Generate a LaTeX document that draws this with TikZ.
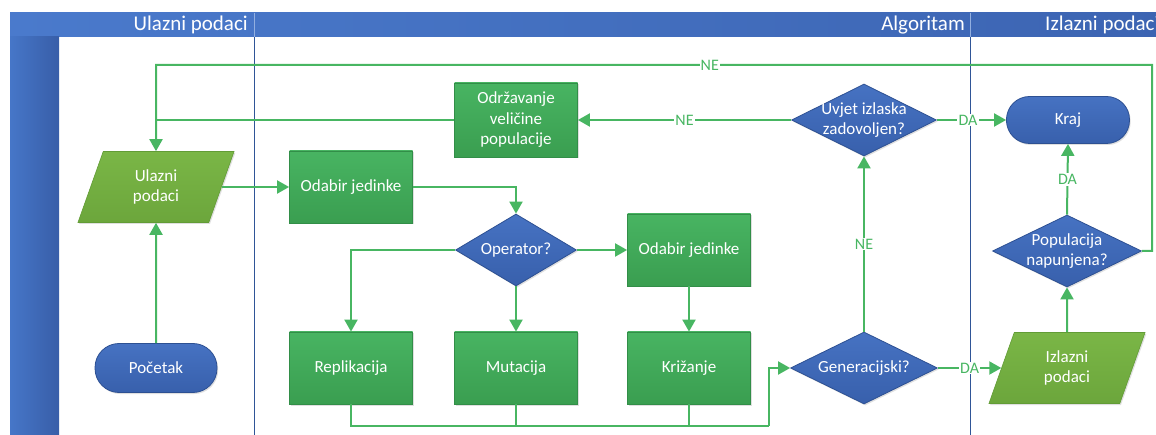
\documentclass[tikz,border=0pt]{standalone}
\usepackage{fontspec}
\setmainfont{Carlito}
\usetikzlibrary{shapes.geometric,arrows.meta,shadows,calc}

\definecolor{hdrlight}{RGB}{74,122,204}
\definecolor{hdrdark}{RGB}{60,100,178}
\definecolor{barlight}{RGB}{70,118,200}
\definecolor{bardark}{RGB}{56,94,168}
\definecolor{laneline}{RGB}{47,85,151}
\definecolor{proctop}{RGB}{72,180,98}
\definecolor{procbot}{RGB}{58,158,80}
\definecolor{procedge}{RGB}{50,142,72}
\definecolor{iotop}{RGB}{122,182,70}
\definecolor{iobot}{RGB}{108,166,60}
\definecolor{ioedge}{RGB}{98,156,54}
\definecolor{dectop}{RGB}{70,114,194}
\definecolor{decbot}{RGB}{56,96,172}
\definecolor{decedge}{RGB}{45,80,146}
\definecolor{flow}{RGB}{72,182,98}

\tikzset{
  nodetext/.style={text=white, align=center, font=\fontsize{17}{20.5}\selectfont},
  softshadow/.style={drop shadow={shadow xshift=1.2pt, shadow yshift=-1.5pt, opacity=0.18, fill=black!70}},
  procbox/.style={rectangle, draw=procedge, line width=0.8pt, top color=proctop, bottom color=procbot,
    nodetext, minimum width=123pt, minimum height=72pt, inner sep=2pt, softshadow},
  iobox/.style={trapezium, trapezium left angle=72.5, trapezium right angle=107.5, trapezium stretches=true,
    draw=ioedge, line width=0.6pt, top color=iotop, bottom color=iobot, nodetext,
    minimum width=157pt, minimum height=71pt, inner sep=0pt, softshadow},
  decbox/.style={diamond, draw=decedge, line width=0.8pt, top color=dectop, bottom color=decbot,
    inner sep=0pt, minimum height=72pt, softshadow},
  termbox/.style={rectangle, rounded corners=23pt, draw=decedge, line width=0.8pt, top color=dectop,
    bottom color=decbot, nodetext, minimum width=123pt, minimum height=47pt, inner sep=2pt, softshadow},
  flowline/.style={draw=flow, line width=2pt},
  flowarrow/.style={flowline, -{Triangle[width=13pt,length=12pt]}},
  lbl/.style={fill=white, text=flow, inner sep=1.2pt, font=\fontsize{16}{18}\selectfont},
  hdrtext/.style={text=white, font=\fontsize{21}{24}\selectfont, inner sep=0pt},
}

\begin{document}
\begin{tikzpicture}[x=1pt,y=-1pt]
\useasboundingbox (0,0) rectangle (1156,435);
\clip (0,0) rectangle (1156,435);

% swimlane frame
\shade[left color=hdrlight, right color=hdrdark] (10,13) rectangle (1170,37);
\shade[left color=barlight, right color=bardark] (10,37) rectangle (59,435);
\draw[hdrlight!60!white, line width=0.6pt] (254,13) -- (254,37) (970,13) -- (970,37);
\draw[laneline, line width=1pt] (254,37) -- (254,435) (970,37) -- (970,435);
\node[hdrtext, anchor=east] (hIn) at (248,25) {Ulazni podaci};
\node[hdrtext, anchor=east] (hAlg) at (965,25) {Algoritam};
\node[hdrtext, anchor=west] (hOut) at (1045,25) {Izlazni podaci};

% flowchart nodes
\node[iobox] (inp) at (156,187) {Ulazni\\podaci};
\node[termbox, minimum width=122pt, minimum height=49pt, rounded corners=24pt] (start) at (156,368) {Početak};
\node[procbox] (sel1) at (351,187) {Odabir jedinke};
\node[decbox, minimum width=121pt, label={[nodetext]center:Operator?}] (op) at (516,250) {};
\node[procbox] (sel2) at (689,250) {Odabir jedinke};
\node[procbox] (rep) at (351,368) {Replikacija};
\node[procbox] (mut) at (516,368) {Mutacija};
\node[procbox] (cross) at (689,368) {Križanje};
\node[decbox, minimum width=147pt, label={[nodetext]center:Generacijski?}] (gen) at (864,368) {};
\node[decbox, minimum width=145pt, label={[nodetext]center:Uvjet izlaska\\zadovoljen?}] (exitd) at (864,120) {};
\node[procbox, minimum height=74pt] (keep) at (516,120) {Održavanje\\veličine\\populacije};
\node[termbox] (fin) at (1068,120) {Kraj};
\node[decbox, minimum width=149pt, label={[nodetext]center:Populacija\\napunjena?}] (full) at (1067,251) {};
\node[iobox] (outp) at (1067,368) {Izlazni\\podaci};

% junction points of the connectors
\coordinate (collR) at (769,426);
\coordinate (loopR) at (1152,65);
\coordinate (loopL) at (156,65);

% connectors
\draw[flowarrow] (start.north) -- (inp.south);
\draw[flowarrow] (inp.right side) -- (sel1.west);
\draw[flowarrow] (sel1.east) -| (op.north);
\draw[flowarrow] (op.east) -- (sel2.west);
\draw[flowarrow] (op.west) -| (rep.north);
\draw[flowarrow] (op.south) -- (mut.north);
\draw[flowarrow] (sel2.south) -- (cross.north);
\draw[flowline] (rep.south) |- (collR);
\draw[flowline] (mut.south) -- (mut.south |- collR);
\draw[flowline] (cross.south) -- (cross.south |- collR);
\draw[flowarrow] (collR) |- (gen.west);
\draw[flowarrow] (gen.east) -- node[lbl] {DA} (outp.left side);
\draw[flowarrow] (gen.north) -- node[lbl] {NE} (exitd.south);
\draw[flowarrow] (exitd.east) -- node[lbl, pos=0.45] {DA} (fin.west);
\draw[flowarrow] (exitd.west) -- node[lbl] {NE} (keep.east);
\draw[flowline] (keep.west) -- (keep.west -| loopL);
\draw[flowarrow] (outp.north) -- (full.south);
\draw[flowarrow] (full.north) -- node[lbl] {DA} (fin.south);
\draw[flowarrow] (full.east) -| (loopR) -- node[lbl, pos=0.444] {NE} (loopL) -- (inp.north);
\end{tikzpicture}
\end{document}
